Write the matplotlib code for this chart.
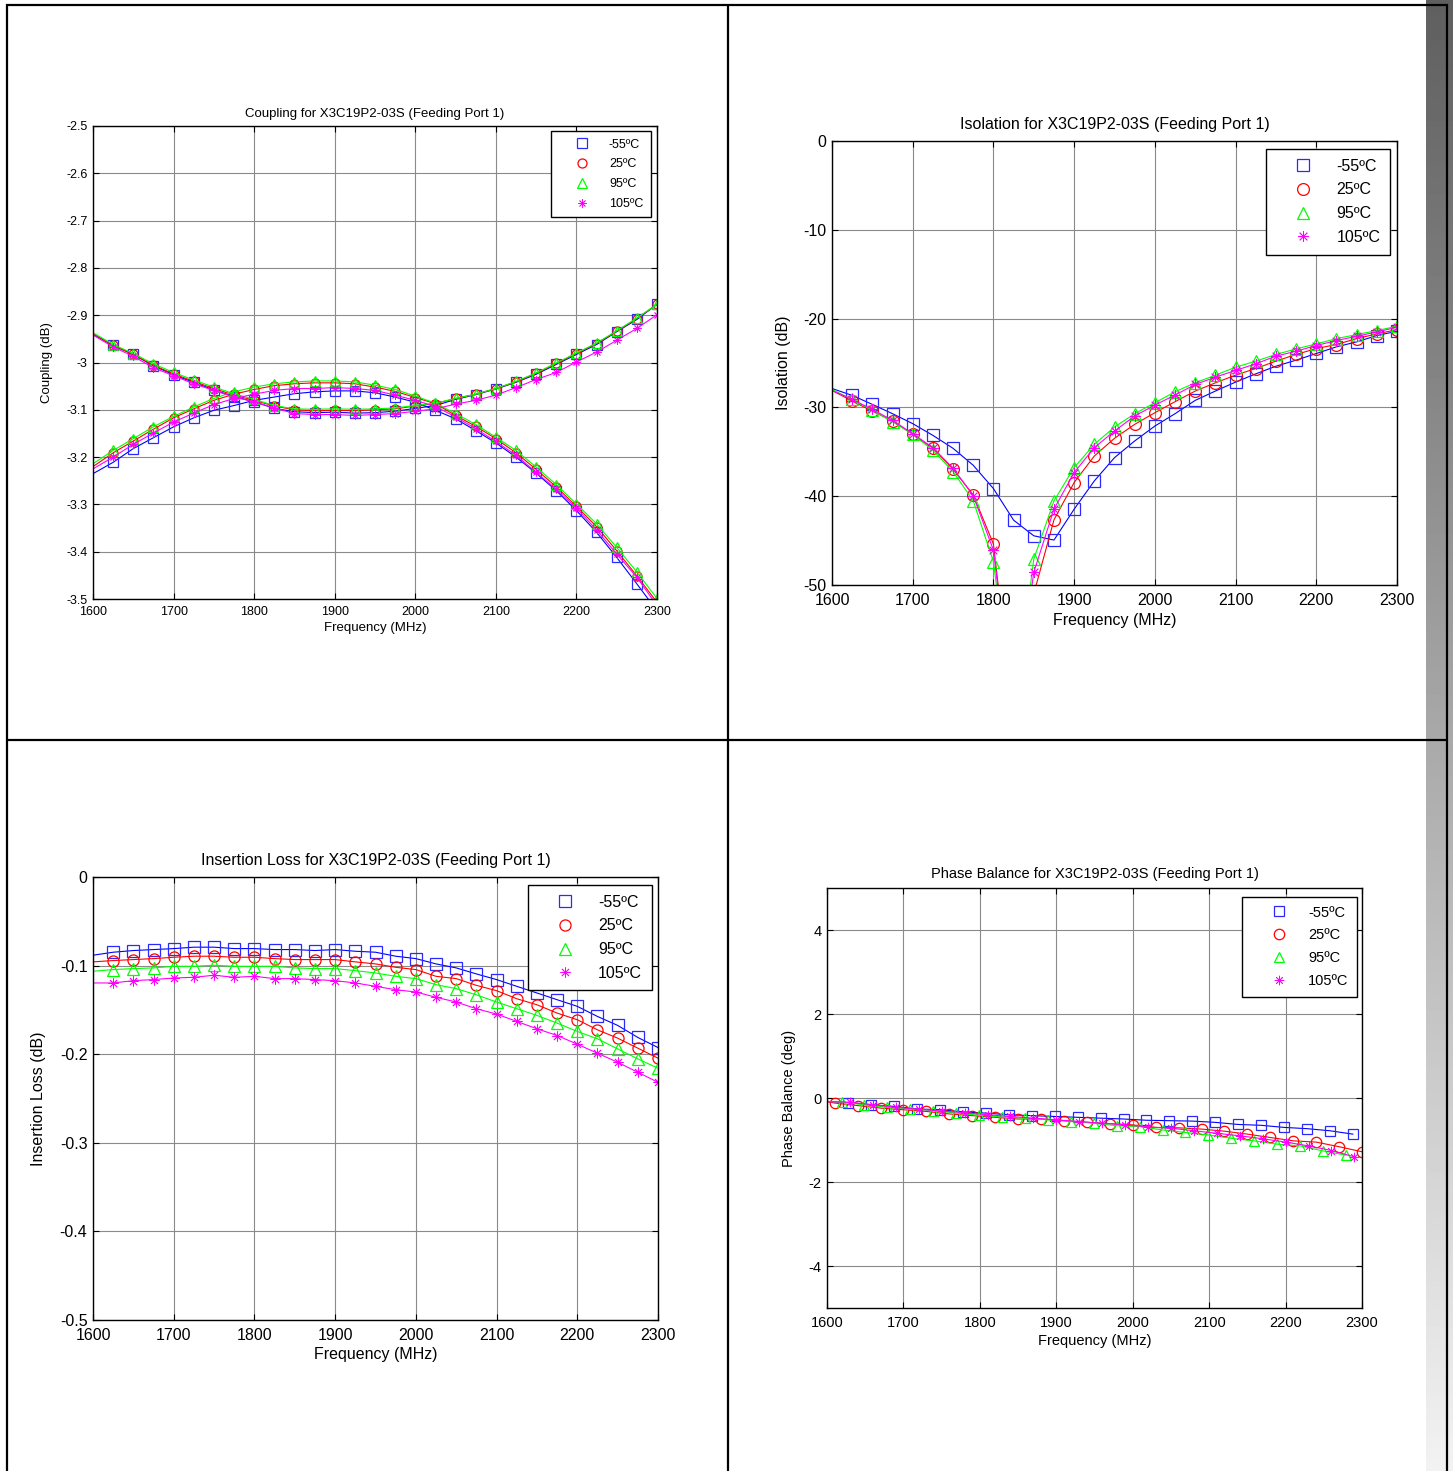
import numpy as np
import matplotlib
matplotlib.use('Agg')
import matplotlib.pyplot as plt
from matplotlib.lines import Line2D
from matplotlib.ticker import FuncFormatter

plt.rcParams['font.family'] = ['Liberation Sans', 'DejaVu Sans']
plt.rcParams['axes.unicode_minus'] = False

W, H = 1453, 1471

# ---------------- data ----------------
temps = ['-55ºC', '25ºC', '95ºC', '105ºC']
colors = ['#0000ff', '#ff0000', '#00ff00', '#ff00ff']
markers = ['s', 'o', '^', (8, 2, 0)]

freq = np.arange(1600, 2301, 25)

# coupling: two traces per temperature (one starting high, one starting low)
cp_a_m55 = [-2.940, -2.964, -2.983, -3.007, -3.026, -3.042, -3.058, -3.072, -3.083, -3.097, -3.104, -3.106, -3.105, -3.107, -3.106,
            -3.103, -3.097, -3.091, -3.078, -3.068, -3.056, -3.042, -3.025, -3.004, -2.983, -2.962, -2.935, -2.909, -2.877]
cp_a_25 = [-2.939, -2.964, -2.983, -3.006, -3.024, -3.040, -3.055, -3.069, -3.080, -3.092, -3.100, -3.102, -3.101, -3.102, -3.100,
           -3.098, -3.092, -3.087, -3.076, -3.067, -3.055, -3.041, -3.023, -3.002, -2.981, -2.960, -2.934, -2.907, -2.877]
cp_a_95 = [-2.937, -2.962, -2.981, -3.003, -3.021, -3.037, -3.052, -3.066, -3.078, -3.091, -3.098, -3.099, -3.098, -3.099, -3.098,
           -3.096, -3.091, -3.086, -3.076, -3.067, -3.055, -3.040, -3.022, -3.001, -2.980, -2.959, -2.933, -2.906, -2.877]
cp_a_105 = [-2.942, -2.967, -2.987, -3.011, -3.028, -3.045, -3.059, -3.073, -3.083, -3.096, -3.108, -3.110, -3.110, -3.112, -3.110,
            -3.108, -3.103, -3.098, -3.088, -3.080, -3.069, -3.053, -3.036, -3.021, -2.999, -2.978, -2.953, -2.928, -2.899]

cp_b_m55 = [-3.235, -3.211, -3.182, -3.159, -3.136, -3.117, -3.101, -3.091, -3.080, -3.073, -3.066, -3.062, -3.060, -3.060, -3.064,
            -3.073, -3.084, -3.101, -3.119, -3.144, -3.170, -3.200, -3.234, -3.271, -3.313, -3.359, -3.412, -3.468, -3.525]
cp_b_25 = [-3.220, -3.191, -3.166, -3.141, -3.117, -3.098, -3.080, -3.067, -3.057, -3.049, -3.045, -3.043, -3.043, -3.045, -3.052,
           -3.061, -3.074, -3.087, -3.112, -3.135, -3.161, -3.191, -3.226, -3.263, -3.304, -3.347, -3.398, -3.451, -3.507]
cp_b_95 = [-3.214, -3.186, -3.161, -3.136, -3.114, -3.094, -3.076, -3.062, -3.052, -3.045, -3.041, -3.039, -3.039, -3.041, -3.048,
           -3.057, -3.071, -3.086, -3.108, -3.131, -3.158, -3.186, -3.221, -3.258, -3.299, -3.341, -3.391, -3.443, -3.499]
cp_b_105 = [-3.225, -3.200, -3.173, -3.149, -3.126, -3.107, -3.089, -3.076, -3.067, -3.059, -3.055, -3.055, -3.053, -3.055, -3.059,
            -3.069, -3.080, -3.093, -3.115, -3.140, -3.167, -3.196, -3.232, -3.268, -3.308, -3.354, -3.405, -3.454, -3.514]

# isolation (dB)
iso_m55 = [-27.87, -28.65, -29.66, -30.71, -31.83, -33.15, -34.61, -36.52, -39.14, -42.70, -44.46, -44.94, -41.46, -38.28, -35.66,
           -33.78, -32.10, -30.71, -29.21, -28.16, -27.15, -26.22, -25.36, -24.68, -23.93, -23.18, -22.62, -21.91, -21.42]
iso_25 = [-28.09, -29.29, -30.41, -31.54, -33.03, -34.61, -36.97, -39.85, -45.39, -65.00, -51.00, -42.66, -38.46, -35.47, -33.48,
          -31.91, -30.60, -29.36, -28.16, -27.23, -26.37, -25.62, -24.79, -24.04, -23.37, -22.92, -22.25, -21.72, -21.24]
iso_95 = [-27.98, -29.10, -30.34, -31.61, -33.03, -34.83, -37.23, -40.52, -47.38, -65.00, -47.08, -40.52, -36.78, -34.16, -32.21,
          -30.71, -29.48, -28.24, -27.23, -26.37, -25.47, -24.79, -24.04, -23.41, -22.85, -22.25, -21.80, -21.35, -20.86]
iso_105 = [-28.09, -29.10, -30.22, -31.46, -32.96, -34.53, -36.85, -39.96, -46.07, -65.00, -48.58, -41.46, -37.34, -34.53, -32.66,
           -30.97, -29.74, -28.61, -27.42, -26.59, -25.84, -25.09, -24.23, -23.67, -23.03, -22.47, -21.99, -21.50, -20.97]

# insertion loss (dB)
il_m55 = [-0.0883, -0.0849, -0.0830, -0.0819, -0.0808, -0.0792, -0.0792, -0.0808, -0.0808, -0.0819, -0.0819, -0.0830, -0.0819, -0.0838, -0.0849,
          -0.0894, -0.0921, -0.0981, -0.1026, -0.1094, -0.1158, -0.1234, -0.1309, -0.1385, -0.1460, -0.1574, -0.1675, -0.1811, -0.1925]
il_25 = [-0.0958, -0.0943, -0.0932, -0.0921, -0.0906, -0.0894, -0.0894, -0.0906, -0.0906, -0.0921, -0.0932, -0.0932, -0.0932, -0.0958, -0.0981,
         -0.1019, -0.1045, -0.1121, -0.1147, -0.1223, -0.1283, -0.1374, -0.1442, -0.1536, -0.1611, -0.1725, -0.1819, -0.1932, -0.2045]
il_95 = [-0.1064, -0.1045, -0.1034, -0.1026, -0.1008, -0.1008, -0.0996, -0.1008, -0.1008, -0.1008, -0.1026, -0.1034, -0.1034, -0.1057, -0.1083,
         -0.1121, -0.1147, -0.1215, -0.1260, -0.1330, -0.1411, -0.1487, -0.1562, -0.1649, -0.1743, -0.1826, -0.1940, -0.2053, -0.2158]
il_105 = [-0.1196, -0.1196, -0.1170, -0.1158, -0.1140, -0.1132, -0.1109, -0.1132, -0.1121, -0.1147, -0.1147, -0.1158, -0.1170, -0.1196, -0.1234,
          -0.1272, -0.1298, -0.1358, -0.1411, -0.1487, -0.1547, -0.1630, -0.1713, -0.1789, -0.1887, -0.1989, -0.2091, -0.2204, -0.2317]

# phase balance (deg), each temperature sampled on its own grid (first point = trace start, no marker)
pb_f_m55 = [1600] + list(range(1628, 2289, 30))
pb_m55 = [-0.08, -0.11, -0.16, -0.20, -0.26, -0.28, -0.33, -0.36, -0.40, -0.42, -0.44, -0.46, -0.48,
          -0.50, -0.53, -0.54, -0.55, -0.58, -0.63, -0.65, -0.70, -0.73, -0.78, -0.86]
pb_f_25 = [1600] + list(range(1610, 2301, 30))
pb_25 = [-0.09, -0.12, -0.18, -0.24, -0.28, -0.32, -0.38, -0.42, -0.46, -0.50, -0.50, -0.54, -0.58,
         -0.61, -0.64, -0.70, -0.71, -0.74, -0.79, -0.86, -0.94, -1.02, -1.05, -1.16, -1.28]
pb_f_95 = [1600] + list(range(1619, 2280, 30))
pb_95 = [-0.08, -0.10, -0.16, -0.22, -0.26, -0.30, -0.36, -0.41, -0.45, -0.48, -0.52, -0.56, -0.60,
         -0.66, -0.68, -0.76, -0.82, -0.88, -0.96, -1.02, -1.10, -1.14, -1.26, -1.36]
pb_f_105 = [1600] + list(range(1630, 2291, 30))
pb_105 = [-0.09, -0.10, -0.16, -0.22, -0.27, -0.31, -0.35, -0.40, -0.44, -0.48, -0.52, -0.56, -0.60,
          -0.64, -0.69, -0.72, -0.78, -0.84, -0.90, -0.97, -1.05, -1.14, -1.25, -1.40]

title_tail = ' for X3C19P2-03S (Feeding Port 1)'


# ---------------- helpers ----------------
def px_axes(x0, y0, x1, y1):
    # pixel box (top-left origin) -> figure axes
    return fig.add_axes([x0 / W, 1 - y1 / H, (x1 - x0) / W, (y1 - y0) / H])


def fmt(v, pos):
    return '%g' % (round(v, 4) + 0.0)


def style(ax, fs, ylim, yticks, tpad):
    ax.set_xlim(1600, 2300)
    ax.set_ylim(ylim)
    ax.set_xticks(np.arange(1600, 2301, 100))
    ax.set_yticks(yticks)
    ax.yaxis.set_major_formatter(FuncFormatter(fmt))
    ax.set_axisbelow(True)
    ax.grid(True, color='#8a8a8a', lw=0.8)
    ax.tick_params(direction='in', top=True, right=True, length=4, width=0.8,
                   labelsize=fs, color='k')
    ax.tick_params(axis='x', pad=tpad)
    ax.tick_params(axis='y', pad=4)
    for s in ax.spines.values():
        s.set_linewidth(1.0)
        s.set_color('k')


def mk_size(i, ms):
    # asterisk looks heavier than the open markers, draw it a bit smaller
    return ms * 0.9 if i == 3 else ms


edge = ['#2a2aff', '#ff0000', '#00ff00', '#ff00ff']
mews = [0.9, 0.9, 0.9, 0.6]


def trace(ax, x, y, i, ms):
    ax.plot(x, y, color=colors[i], lw=0.8, marker=markers[i], ms=mk_size(i, ms), mfc='none',
            mec=edge[i], mew=mews[i], markevery=slice(1, None))


def legend(ax, fs, ms, bp, hl, htp, ls, anchor):
    hs = [Line2D([], [], ls='none', marker=m, color=c, mec=edge[i], mfc='none', ms=mk_size(i, ms), mew=mews[i])
          for i, (c, m) in enumerate(zip(colors, markers))]
    leg = ax.legend(hs, temps, loc='upper right', bbox_to_anchor=anchor, fontsize=fs,
                    fancybox=False, framealpha=1, borderpad=bp, handlelength=hl,
                    handletextpad=htp, labelspacing=ls, borderaxespad=0)
    leg.get_frame().set_edgecolor('k')
    leg.get_frame().set_linewidth(1.0)


fig = plt.figure(figsize=(W / 100, H / 100), dpi=100)

# gray band on the right edge
band = fig.add_axes([1426 / W, 0, 27 / W, 1])
band.imshow(np.linspace(95, 242, 256)[:, None], cmap='gray', vmin=0, vmax=255,
            aspect='auto', extent=(0, 1, 0, 1), origin='upper')
band.axis('off')

# ---------------- coupling ----------------
ax1 = px_axes(93, 126, 657, 599)
for i, (a, b) in enumerate([(cp_a_m55, cp_b_m55), (cp_a_25, cp_b_25), (cp_a_95, cp_b_95), (cp_a_105, cp_b_105)]):
    trace(ax1, freq, a, i, 6.5)
    trace(ax1, freq, b, i, 6.5)
style(ax1, 9, (-3.5, -2.5), np.arange(-3.5, -2.45, 0.1), 5)
ax1.set_title('Coupling' + title_tail, fontsize=9.5, pad=6.5)
ax1.set_xlabel('Frequency (MHz)', fontsize=9.5, labelpad=3)
ax1.set_ylabel('Coupling (dB)', fontsize=9.5)
ax1.yaxis.set_label_coords(-0.071, 0.5)
legend(ax1, 9, 6.5, 0.6, 3.7, 0.3, 0.62, (0.989, 0.989))

# ---------------- isolation ----------------
ax2 = px_axes(832, 141, 1397, 585)
for i, y in enumerate([iso_m55, iso_25, iso_95, iso_105]):
    trace(ax2, freq, y, i, 8.5)
style(ax2, 11.5, (-50, 0), np.arange(-50, 1, 10), 6)
ax2.set_title('Isolation' + title_tail, fontsize=11.5, pad=8.5)
ax2.set_xlabel('Frequency (MHz)', fontsize=11.5, labelpad=3)
ax2.set_ylabel('Isolation (dB)', fontsize=11.5)
ax2.yaxis.set_label_coords(-0.073, 0.5)
legend(ax2, 11.5, 8.5, 0.6, 3.4, 0.4, 0.55, (0.988, 0.982))

# ---------------- insertion loss ----------------
ax3 = px_axes(93, 877, 658, 1320)
for i, y in enumerate([il_m55, il_25, il_95, il_105]):
    trace(ax3, freq, y, i, 8)
style(ax3, 11.5, (-0.5, 0), np.arange(-0.5, 0.01, 0.1), 6)
ax3.set_title('Insertion Loss' + title_tail, fontsize=11.5, pad=8.5)
ax3.set_xlabel('Frequency (MHz)', fontsize=11.5, labelpad=3)
ax3.set_ylabel('Insertion Loss (dB)', fontsize=11.5)
ax3.yaxis.set_label_coords(-0.083, 0.5)
legend(ax3, 11.5, 8, 0.6, 3.4, 0.4, 0.55, (0.989, 0.982))

# ---------------- phase balance ----------------
ax4 = px_axes(827, 888, 1362, 1308)
for i, (x, y) in enumerate([(pb_f_m55, pb_m55), (pb_f_25, pb_25), (pb_f_95, pb_95), (pb_f_105, pb_105)]):
    trace(ax4, x, y, i, 7.5)
style(ax4, 10.5, (-5, 5), [-4, -2, 0, 2, 4], 6)
ax4.set_title('Phase Balance' + title_tail, fontsize=10.5, pad=7.5)
ax4.set_xlabel('Frequency (MHz)', fontsize=10.5, labelpad=3)
ax4.set_ylabel('Phase Balance (deg)', fontsize=10.5)
ax4.yaxis.set_label_coords(-0.058, 0.5)
legend(ax4, 10.5, 7.5, 0.6, 3.8, 0.1, 0.6, (0.991, 0.979))


# ---------------- table lines ----------------
def seg(x0, y0, x1, y1):
    fig.add_artist(Line2D([x0 / W, x1 / W], [1 - y0 / H, 1 - y1 / H], color='k', lw=1.6,
                          solid_capstyle='butt'))


seg(6, 5, 1448, 5)
seg(6, 740, 1448, 740)
seg(7, 4, 7, H)
seg(728, 4, 728, H)
seg(1447, 4, 1447, H)

fig.savefig('out.png', dpi=100)
